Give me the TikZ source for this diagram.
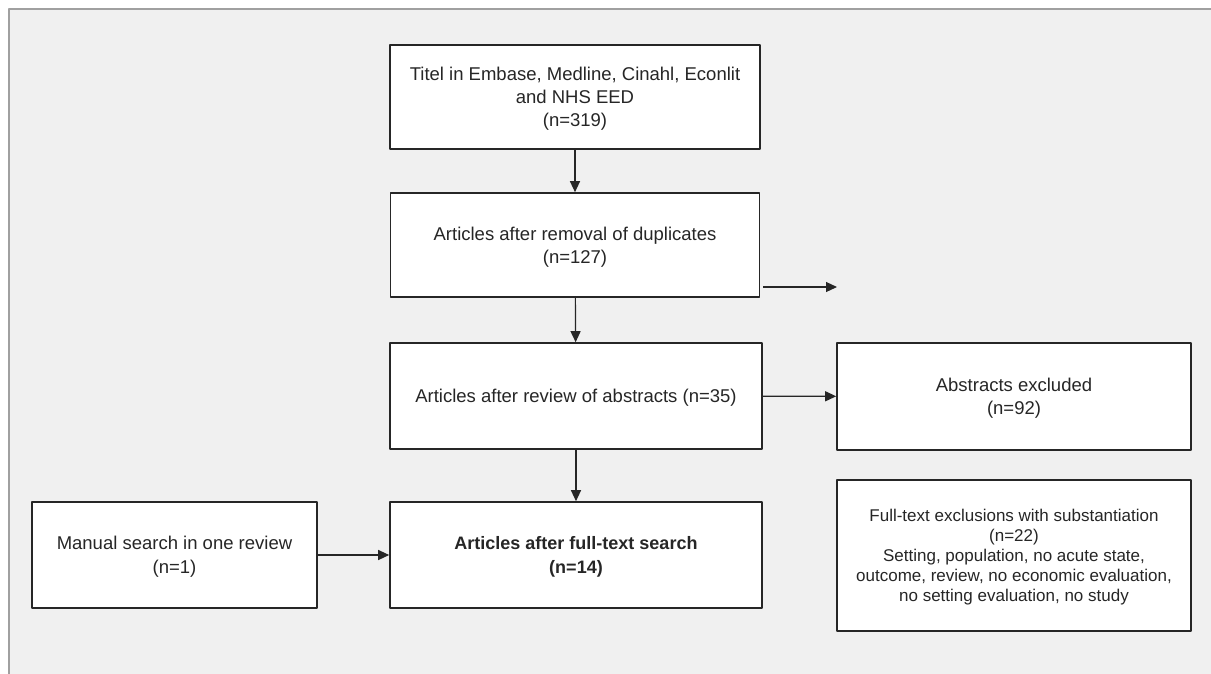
\documentclass[tikz,border=0pt]{standalone}
\usepackage{fontspec}
\setmainfont{Liberation Sans}
\usetikzlibrary{arrows.meta}
\definecolor{panel}{HTML}{F0F0F0}
\definecolor{panelline}{HTML}{A0A0A0}
\definecolor{ink}{HTML}{262626}

\begin{document}
\begin{tikzpicture}[x=1pt, y=-1pt, line join=round, >={Triangle[length=11pt,width=10pt]},
	flowbox/.style={draw=ink, line width=1.6pt, fill=white, text=ink, align=center, inner sep=0pt,
		font=\fontsize{18.5}{23}\selectfont, text depth=-8pt},
	link/.style={->, draw=ink, line width=1.2pt, fill=ink}]
		\useasboundingbox (0,0) rectangle (1211,673);
		\clip (0,0) rectangle (1211,673);
		\filldraw[fill=panel, draw=panelline, line width=2pt] (9,9) rectangle (1230,690);
		% main column
		\node[flowbox, minimum width=370pt, minimum height=104pt] (titles) at (575,97)
			{Titel in Embase, Medline, Cinahl,\ Econlit\\ and NHS EED\\ (n=319)};
		\node[flowbox, minimum width=369pt, minimum height=104pt] (dupl) at (575,245)
			{Articles after removal of duplicates\\ (n=127)};
		\node[flowbox, minimum width=372pt, minimum height=106pt] (abstr) at (576,396)
			{Articles after review of abstracts (n=35)};
		\node[flowbox, minimum width=372pt, minimum height=106pt, font=\bfseries\fontsize{18}{24}\selectfont] (fulltext) at (576,555)
			{Articles after\ full-text\ search\\ (n=14)};
		% side boxes
		\node[flowbox, minimum width=285pt, minimum height=106pt, font=\fontsize{18.5}{24}\selectfont] (manual) at (174.5,555)
			{Manual search in one review\\ (n=1)};
		\node[flowbox, minimum width=354pt, minimum height=107pt] (excl) at (1014,396.5)
			{Abstracts excluded\\ (n=92)};
		\node[flowbox, minimum width=354pt, minimum height=151pt, font=\fontsize{17}{20}\selectfont] (ftexcl) at (1014,555.5)
			{Full-text exclusions with substantiation\\ (n=22)\\ Setting, population, no acute state,\\
			outcome, review, no economic evaluation,\\ no setting evaluation, no study};
		\coordinate (loose) at (837,287);
		% connectors
		\draw[link] (titles) -- (dupl);
		\draw[link] (dupl) -- (abstr);
		\draw[link] (abstr) -- (fulltext);
		\draw[link] (abstr) -- (excl);
		\draw[link] (manual) -- (fulltext);
		\draw[link] ([xshift=3pt]dupl.east |- loose) -- (loose);
	\end{tikzpicture}
\end{document}
